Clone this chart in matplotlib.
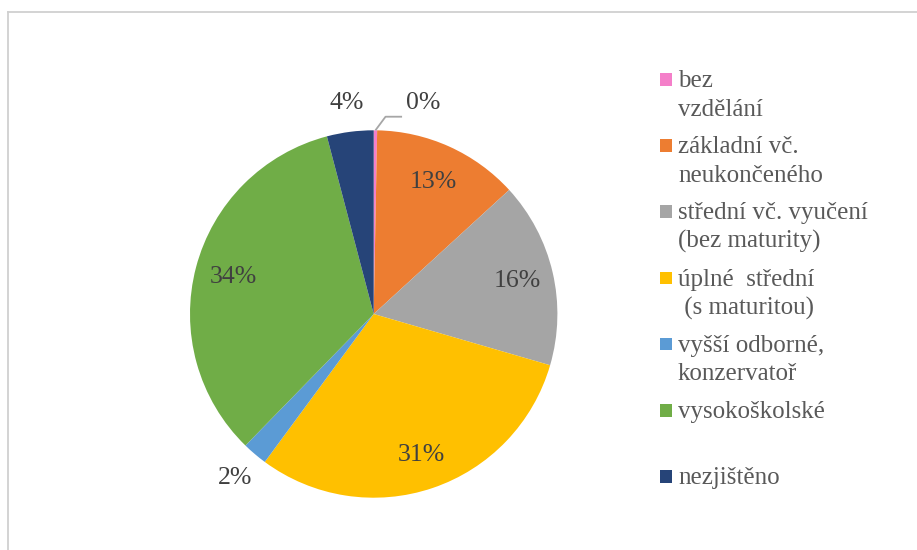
import numpy as np
import matplotlib
matplotlib.use("Agg")
import matplotlib.pyplot as plt
from matplotlib.patches import Rectangle
from matplotlib.lines import Line2D

categories = [
    "bez\nvzdělání",
    "základní vč.\nneukončeného",
    "střední vč. vyučení\n(bez maturity)",
    "úplné  střední\n (s maturitou)",
    "vyšší odborné,\nkonzervatoř",
    "vysokoškolské",
    "nezjištěno",
]
values = [0.3, 12.9, 16.3, 30.6, 2.2, 33.6, 4.1]
colors = ["#F47FC9", "#ED7D31", "#A5A5A5", "#FFC000", "#5B9BD5", "#70AD47", "#264478"]
pct_labels = ["0%", "13%", "16%", "31%", "2%", "34%", "4%"]
# label placement style: radius factor relative to pie radius
label_radius = [None, 0.79, 0.80, 0.81, 1.17, 0.79, 1.16]

W, H = 917, 550
fig = plt.figure(figsize=(W / 100, H / 100), dpi=100)
fig.patch.set_facecolor("white")

serif = ["Liberation Serif", "DejaVu Serif"]

# pie axes: centre (373.7, 314), radius 183.7 px
cx, cy, R = 373.7, 314.0, 183.7
ax = fig.add_axes([(cx - R) / W, 1 - (cy + R) / H, 2 * R / W, 2 * R / H])
ax.set_xlim(-1, 1)
ax.set_ylim(-1, 1)
ax.axis("off")

wedges, _ = ax.pie(values, colors=colors, startangle=90, counterclock=False,
                   radius=1.0, center=(0, 0), frame=False,
                   wedgeprops=dict(linewidth=0))
ax.set_xlim(-1, 1)
ax.set_ylim(-1, 1)
ax.set_aspect("auto")

for w, lab, rf in zip(wedges, pct_labels, label_radius):
    mid = np.deg2rad((w.theta1 + w.theta2) / 2)
    if rf is None:
        # leader line for the tiny slice
        x0, y0 = np.cos(mid), np.sin(mid)
        ax.plot([x0, x0 + 0.055, x0 + 0.145], [y0, 1.074, 1.074],
                color="#A6A6A6", lw=1.3, clip_on=False, solid_capstyle="butt")
        ax.text(x0 + 0.165, 1.15, lab, ha="left", va="center",
                fontsize=18.5, color="#404040", family=serif)
    else:
        ax.text(rf * np.cos(mid), rf * np.sin(mid), lab, ha="center", va="center",
                fontsize=18.5, color="#404040", family=serif)

# legend drawn manually
base0, step, line_h = 87.0, 66.2, 28.5
for i, (cat, col) in enumerate(zip(categories, colors)):
    base = base0 + step * i
    fig.patches.append(Rectangle((659.5 / W, 1 - (base - 1.5) / H), 12.5 / W, 12.5 / H,
                                 transform=fig.transFigure, facecolor=col,
                                 edgecolor="none"))
    for j, line in enumerate(cat.split("\n")):
        fig.text(678 / W, 1 - (base + j * line_h) / H, line, ha="left", va="baseline",
                 fontsize=18, color="#595959", family=serif)

# frame lines (top and left)
fig.add_artist(Line2D([7.5 / W, 1], [1 - 12 / H, 1 - 12 / H], transform=fig.transFigure,
                      color="#D0D0D0", lw=1.3))
fig.add_artist(Line2D([7.5 / W, 7.5 / W], [0, 1 - 12 / H], transform=fig.transFigure,
                      color="#D0D0D0", lw=1.3))

fig.savefig("out.png", dpi=100, facecolor="white")
